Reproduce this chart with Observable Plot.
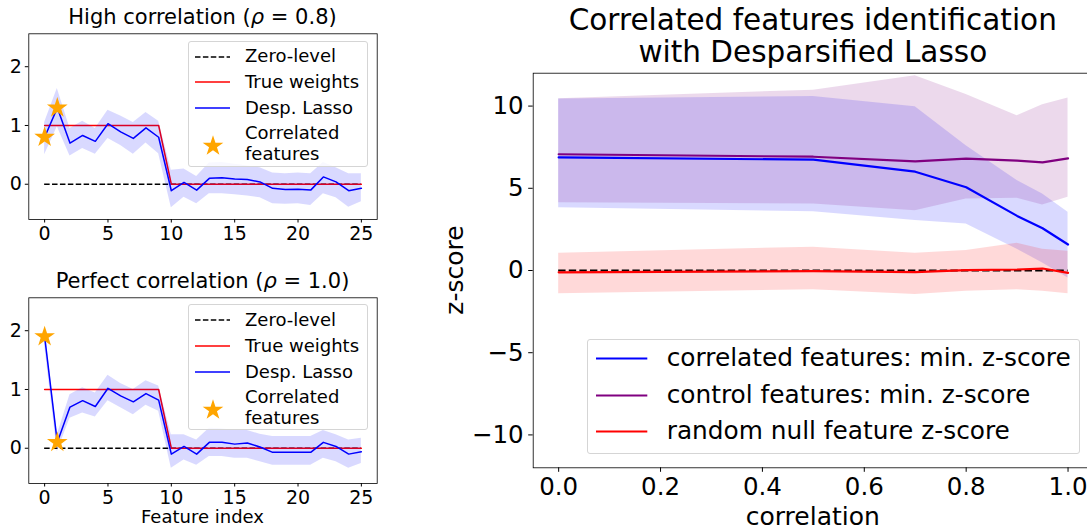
<!DOCTYPE html>
<html><head><meta charset="utf-8">
<script src="https://cdn.jsdelivr.net/npm/d3@7"></script>
<script src="https://cdn.jsdelivr.net/npm/@observablehq/plot@0.6"></script>
<style>
body{margin:0;background:#fff;}
#fig{position:relative;width:1087px;height:531px;overflow:hidden;font-family:"DejaVu Sans",sans-serif;color:#000;background:#fff;}
.abs{position:absolute;white-space:nowrap;line-height:1;}
.pl{position:absolute;}
.pl svg{max-width:none !important;display:block;}
</style></head><body><div id="fig"></div>
<script>
// ---------- data: left panels ----------
const featureIndex = [0,1,2,3,4,5,6,7,8,9,10,11,12,13,14,15,16,17,18,19,20,21,22,23,24,25];
const trueWeights  = [1,1,1,1,1,1,1,1,1,1,0,0,0,0,0,0,0,0,0,0,0,0,0,0,0,0];
const correlatedIdx = [0,1];

const lassoHigh = [0.80,1.30,0.70,0.83,0.73,1.03,0.89,0.78,0.96,0.80,-0.11,0.03,-0.10,0.10,0.11,0.09,0.08,0.04,-0.07,-0.09,-0.085,-0.10,0.125,0.04,-0.11,-0.07];
const upperHigh = [1.05,1.63,0.95,1.07,0.95,1.26,1.16,1.05,1.22,1.07,0.24,0.26,0.13,0.36,0.37,0.34,0.31,0.28,0.19,0.18,0.19,0.18,0.37,0.28,0.18,0.18];
const lowerHigh = [0.50,0.98,0.48,0.61,0.51,0.78,0.66,0.51,0.70,0.52,-0.40,-0.22,-0.33,-0.16,-0.16,-0.18,-0.20,-0.23,-0.33,-0.34,-0.33,-0.36,-0.16,-0.23,-0.39,-0.30];

const lassoPerfect = [1.90,0.10,0.70,0.81,0.71,1.02,0.89,0.79,0.93,0.82,-0.10,0.03,-0.10,0.10,0.10,0.07,0.09,0.02,-0.07,-0.07,-0.07,-0.07,0.10,0.03,-0.10,-0.06];
const upperPerfect = [2.05,0.23,0.91,1.03,0.94,1.24,1.10,1.00,1.15,1.06,0.23,0.23,0.14,0.34,0.33,0.30,0.30,0.24,0.20,0.20,0.20,0.20,0.30,0.23,0.14,0.17];
const lowerPerfect = [1.75,-0.06,0.51,0.60,0.53,0.81,0.69,0.57,0.73,0.63,-0.34,-0.20,-0.29,-0.14,-0.14,-0.17,-0.17,-0.23,-0.29,-0.29,-0.29,-0.29,-0.17,-0.23,-0.34,-0.26];

const xTicksLeft = [0,5,10,15,20,25];
const yTicksLeft = [0,1,2];

// ---------- data: right panel ----------
const corrLevels      = [0, 0.5, 0.7, 0.8, 0.9, 0.95, 1.0];
const correlatedMin   = [6.88, 6.74, 6.01, 5.06, 3.32, 2.57, 1.58];
const correlatedUpper = [10.43, 10.59, 9.96, 7.59, 5.47, 4.66, 3.54];
const correlatedLower = [3.81, 3.58, 3.04, 2.83, 1.30, 0.45, -0.45];
const controlMin      = [7.07, 6.92, 6.64, 6.80, 6.68, 6.58, 6.82];
const controlUpper    = [10.45, 10.97, 11.84, 10.71, 9.41, 10.08, 10.49];
const controlLower    = [4.12, 4.05, 3.64, 4.35, 4.40, 3.99, 4.45];
const nullZ           = [-0.11, -0.04, -0.10, 0.02, 0.06, 0.12, -0.14];
const nullUpper       = [1.05, 1.42, 1.05, 1.21, 1.66, 1.30, 1.17];
const nullLower       = [-1.42, -1.17, -1.46, -1.26, -1.17, -1.26, -1.42];

const xTicksRight = [0, 0.2, 0.4, 0.6, 0.8, 1.0];
const yTicksRight = [-10, -5, 0, 5, 10];

const fig = document.getElementById("fig");
const FONT = "DejaVu Sans";

function addText(html, x, baseline, size, anchor, extra) {
  const d = document.createElement("div");
  d.className = "abs";
  d.style.fontSize = size + "px";
  d.style.left = x + "px";
  d.style.top = (baseline - size * 0.846) + "px";
  if (anchor === "middle") d.style.transform = "translateX(-50%)";
  d.innerHTML = html;
  if (extra) Object.assign(d.style, extra);
  fig.appendChild(d);
  return d;
}
function place(svg, left, top, w, h) {
  const d = document.createElement("div");
  d.className = "pl";
  d.style.left = left + "px";
  d.style.top = top + "px";
  d.style.width = w + "px";
  d.style.height = h + "px";
  d.appendChild(svg);
  fig.appendChild(d);
}
function swatch(x, y, w, h, inner) {
  const d = document.createElement("div");
  d.className = "abs";
  d.style.left = x + "px"; d.style.top = y + "px";
  d.innerHTML = `<svg width="${w}" height="${h}" style="display:block;overflow:visible">${inner}</svg>`;
  fig.appendChild(d);
}
function legendBox(x, y, w, h) {
  const d = document.createElement("div");
  d.className = "abs";
  Object.assign(d.style, {left: x + "px", top: y + "px", width: w + "px", height: h + "px",
    border: "1px solid #d5d5d5", borderRadius: "3px", background: "rgba(255,255,255,0.8)", boxSizing: "border-box"});
  fig.appendChild(d);
}

// ---------- left panels ----------
function leftPanel(lasso, lower, upper, top) {
  const rows = featureIndex.map((f, i) => ({f, w: trueWeights[i], l: lasso[i], lo: lower[i], hi: upper[i]}));
  const stars = correlatedIdx.map(i => ({f: featureIndex[i], l: lasso[i]}));
  const svg = Plot.plot({
    width: 390, height: 250,
    marginLeft: 28.3, marginRight: 13.3, marginTop: 33.3, marginBottom: 31.0,
    style: {fontFamily: FONT, fontSize: "19px", color: "#000", background: "transparent", overflow: "visible", maxWidth: "none"},
    x: {domain: [-1.25, 26.25]},
    y: {domain: [-0.6, 2.56]},
    marks: [
      Plot.ruleY([0], {x1: featureIndex[0], x2: featureIndex[featureIndex.length - 1], stroke: "black", strokeWidth: 1.5, strokeDasharray: "5.5,2.4"}),
      Plot.line(rows, {x: "f", y: "w", stroke: "red", strokeWidth: 1.5}),
      Plot.line(rows, {x: "f", y: "l", stroke: "blue", strokeWidth: 1.5}),
      Plot.areaY(rows, {x: "f", y1: "lo", y2: "hi", fill: "blue", fillOpacity: 0.15}),
      Plot.dot(stars, {x: "f", y: "l", symbol: "star", fill: "orange", stroke: "none", r: 6.5}),
      Plot.frame({stroke: "black", strokeWidth: 0.8}),
      Plot.axisX({ticks: xTicksLeft, tickSize: 3.5, tickPadding: 3, label: null, tickFormat: d => String(d), fill: "#000"}),
      Plot.axisY({ticks: yTicksLeft, tickSize: 3.5, tickPadding: 3.5, label: null, tickFormat: d => String(d), fill: "#000"})
    ]
  });
  place(svg, 0, top, 390, 250);
}
leftPanel(lassoHigh, lowerHigh, upperHigh, 0);
leftPanel(lassoPerfect, lowerPerfect, upperPerfect, 263.7);

addText("High correlation (<i>ρ</i> = 0.8)", 202.5, 25, 21, "middle");
addText("Perfect correlation (<i>ρ</i> = 1.0)", 202.5, 288.5, 21, "middle");
addText("Feature index", 202.5, 523, 18, "middle");

function leftLegend(dy) {
  legendBox(188, 40.7 + dy, 180, 126);
  const f = 18;
  const rows = [56.5, 82.3, 108.1];
  swatch(195, rows[0] + dy - 1, 35, 2, `<line x1="0" y1="1" x2="35" y2="1" stroke="black" stroke-width="1.5" stroke-dasharray="5.5,2.4"/>`);
  swatch(195, rows[1] + dy - 1, 35, 2, `<line x1="0" y1="1" x2="35" y2="1" stroke="red" stroke-width="1.5"/>`);
  swatch(195, rows[2] + dy - 1, 35, 2, `<line x1="0" y1="1" x2="35" y2="1" stroke="blue" stroke-width="1.5"/>`);
  addText("Zero-level", 245, rows[0] + dy + 6.2, f);
  addText("True weights", 245, rows[1] + dy + 6.2, f);
  addText("Desp. Lasso", 245, rows[2] + dy + 6.2, f);
  addText("Correlated", 245, 139.5 + dy, f);
  addText("features", 245, 160.5 + dy, f);
  const star = d3.symbol(d3.symbolStar, Math.PI * 6.5 * 6.5)();
  swatch(203, 136 + dy, 20, 20, `<path transform="translate(10,10)" d="${star}" fill="orange"/>`);
}
leftLegend(0);
leftLegend(263.7);

// ---------- right panel ----------
const rRows = corrLevels.map((c, i) => ({
  c, cm: correlatedMin[i], chi: correlatedUpper[i], clo: correlatedLower[i],
  km: controlMin[i], khi: controlUpper[i], klo: controlLower[i],
  nm: nullZ[i], nhi: nullUpper[i], nlo: nullLower[i]
}));
const rsvg = Plot.plot({
  width: 663, height: 531,
  marginLeft: 92.7, marginRight: 10, marginTop: 72.7, marginBottom: 63.7,
  style: {fontFamily: FONT, fontSize: "24.5px", color: "#000", background: "transparent", overflow: "visible", maxWidth: "none"},
  x: {domain: [-0.05, 1.05]},
  y: {domain: [-12, 12]},
  marks: [
    Plot.areaY(rRows, {x: "c", y1: "clo", y2: "chi", fill: "blue", fillOpacity: 0.15}),
    Plot.areaY(rRows, {x: "c", y1: "klo", y2: "khi", fill: "purple", fillOpacity: 0.15}),
    Plot.areaY(rRows, {x: "c", y1: "nlo", y2: "nhi", fill: "red", fillOpacity: 0.15}),
    Plot.ruleY([0], {x1: corrLevels[0], x2: corrLevels[corrLevels.length - 1], stroke: "black", strokeWidth: 2, strokeDasharray: "7.4,3.2"}),
    Plot.line(rRows, {x: "c", y: "cm", stroke: "blue", strokeWidth: 2.2}),
    Plot.line(rRows, {x: "c", y: "km", stroke: "purple", strokeWidth: 2.2}),
    Plot.line(rRows, {x: "c", y: "nm", stroke: "red", strokeWidth: 2.2}),
    Plot.frame({stroke: "black", strokeWidth: 0.8}),
    Plot.axisX({ticks: xTicksRight, tickSize: 4.5, tickPadding: 5, label: null, tickFormat: d3.format(".1f"), fill: "#000"}),
    Plot.axisY({ticks: yTicksRight, tickSize: 4.5, tickPadding: 5, label: null, tickFormat: d3.format("d"), fill: "#000"})
  ]
});
place(rsvg, 440, 0, 663, 531);

addText("Correlated features identification", 812.8, 30.7, 29.5, "middle");
addText("with Desparsified Lasso", 812.8, 63.3, 29.5, "middle");
addText("correlation", 812.8, 525, 25, "middle");
addText("z-score", 0, 0, 25, null, {transform: "translate(-50%, -50%) rotate(-90deg)", top: "270px", left: "454px"});

// right legend
legendBox(587.3, 339.3, 493, 114.7);
const rRowsY = [358.3, 395, 431.7];
const rCols = ["blue", "purple", "red"];
const rLabels = ["correlated features: min. z-score", "control features: min. z-score", "random null feature z-score"];
rRowsY.forEach((y, i) => {
  swatch(596, y - 1.5, 51.3, 3, `<line x1="0" y1="1.5" x2="51.3" y2="1.5" stroke="${rCols[i]}" stroke-width="2.2"/>`);
  addText(rLabels[i], 666.7, y + 8.5, 24.8);
});
</script></body></html>
